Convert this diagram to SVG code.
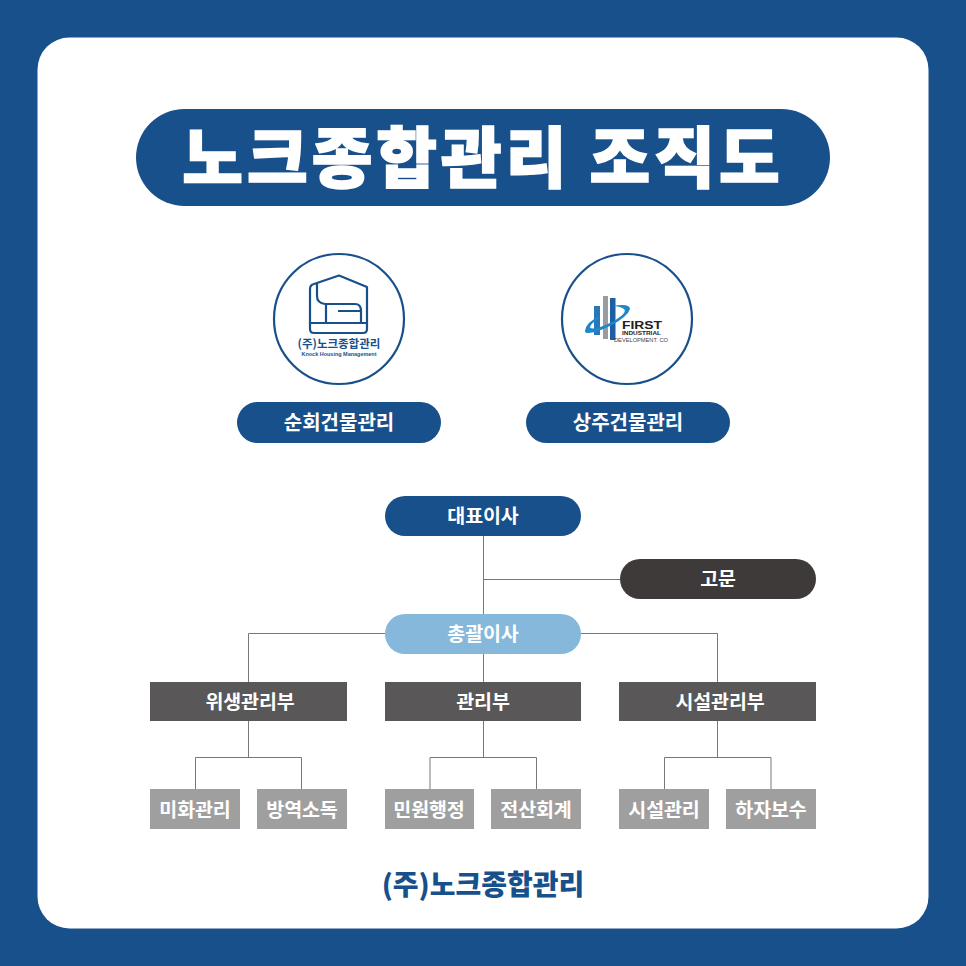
<svg xmlns="http://www.w3.org/2000/svg" width="966" height="966" viewBox="0 0 966 966">
<style>
text{font-family:"Noto Sans CJK KR","Noto Sans",sans-serif;text-anchor:middle;fill:#fff}
.n{font-size:19.500px;font-weight:700;letter-spacing:-.1px}
.s{font-size:20px;font-weight:700}
.c{fill:none;stroke:#77787a;stroke-width:1}
.ring{fill:#fff;stroke:#18508b;stroke-width:2.2}
.blue{fill:#18508b}.dark{fill:#595757}.grey{fill:#9f9fa0}
.ic{fill:none;stroke:#18508b;stroke-width:2.2;stroke-linejoin:round}
.en{font-family:"Liberation Sans",sans-serif}
</style>
<rect width="966" height="966" fill="#18508b"/>
<rect x="37.500" y="37.500" width="891" height="891" rx="32" fill="#fff"/>
<g id="title"><rect x="136" y="109" width="694" height="97" rx="48.500" class="blue"/>
<text x="483" y="182" font-size="66" font-weight="900" stroke="#fff" stroke-width="1.600" style="letter-spacing:4px">노크종합관리 조직도</text></g>
<g id="logo-knock"><circle cx="339" cy="319" r="65" class="ring"/>
<path class="ic" d="M314 284L339 275.500L367 287V329Q367 333 363 333H314Q310 333 310 329V289Q310 285 314 284ZM317 283V296Q317 303 325 304H355Q361 304 361 311V323M326 304V323M338 311H360M310 323H367"/>
<text x="339" y="348" font-size="11.500" font-weight="700" style="fill:#18508b">(주)노크종합관리</text>
<text x="339" y="356" font-size="5.200" font-weight="700" class="en" textLength="75" lengthAdjust="spacingAndGlyphs" style="fill:#18508b">Knock Housing Management</text></g>
<g id="logo-first"><circle cx="627" cy="319" r="65" class="ring"/>
<rect x="594" y="306" width="6" height="29" fill="#2a77b8"/><rect x="603" y="296" width="5" height="43" fill="#9a9da0"/><rect x="610" y="298" width="5.500" height="42" fill="#1d5fa5"/>
<path d="M585 331Q586 322 600 316L598 319Q590 324 590 328Q596 330 612 322Q628 313 624 309Q620 306 612 306Q630 303 630 309Q628 316 612 325Q596 333 588 333Q585 333 585 331Z" fill="#1f86c9"/>
<text x="642" y="329" font-size="11" font-weight="700" class="en" textLength="40" lengthAdjust="spacingAndGlyphs" style="fill:#222">FIRST</text>
<text x="641.500" y="335" font-size="5.500" font-weight="700" class="en" textLength="39" lengthAdjust="spacingAndGlyphs" style="fill:#222">INDUSTRIAL</text>
<text x="641" y="341.500" font-size="4.800" class="en" textLength="54" lengthAdjust="spacingAndGlyphs" style="fill:#444">DEVELOPMENT. CO</text></g>
<g id="sunhoe"><rect x="237" y="402" width="204" height="41" rx="20.500" class="blue"/><text x="339" y="430" class="s">순회건물관리</text></g>
<g id="sangju"><rect x="526" y="402" width="204" height="41" rx="20.500" class="blue"/><text x="628" y="430" class="s">상주건물관리</text></g>
<g id="connectors">
<path class="c" d="M483.500 536V682M483.500 579.500H620M385 633.500H248.500V682M581 633.500H717.500V682M248.500 721V757.500M195.500 789V757.500H301.500V789M483.500 721V757.500M430 789V757.500H536.500V789M717.500 721V757.500M664.500 789V757.500H771V789"/>
</g>
<g id="ceo"><rect x="385" y="496" width="196" height="40" rx="20" class="blue"/><text x="483" y="523" class="n">대표이사</text></g>
<g id="advisor"><rect x="620" y="559" width="196" height="40" rx="20" fill="#3e3a39"/><text x="718" y="586" class="n">고문</text></g>
<g id="director"><rect x="385" y="614" width="196" height="40" rx="20" fill="#85b8db"/><text x="483" y="641" class="n">총괄이사</text></g>
<g id="hygiene"><rect x="150" y="682" width="197" height="39" class="dark"/><text x="250" y="708.500" class="n">위생관리부</text></g>
<g id="mgmt"><rect x="385" y="682" width="196" height="39" class="dark"/><text x="483" y="708.500" class="n">관리부</text></g>
<g id="facility"><rect x="619" y="682" width="197" height="39" class="dark"/><text x="720" y="708.500" class="n">시설관리부</text></g>
<g id="n1"><rect x="150" y="789" width="90" height="40" class="grey"/><text x="195" y="816.500" class="n">미화관리</text></g>
<g id="n2"><rect x="257" y="789" width="90" height="40" class="grey"/><text x="302" y="816.500" class="n">방역소독</text></g>
<g id="n3"><rect x="385" y="789" width="89" height="40" class="grey"/><text x="429" y="816.500" class="n">민원행정</text></g>
<g id="n4"><rect x="491" y="789" width="90" height="40" class="grey"/><text x="536" y="816.500" class="n">전산회계</text></g>
<g id="n5"><rect x="619" y="789" width="90" height="40" class="grey"/><text x="664" y="816.500" class="n">시설관리</text></g>
<g id="n6"><rect x="726" y="789" width="90" height="40" class="grey"/><text x="771" y="816.500" class="n">하자보수</text></g>
<g id="footer"><text x="483" y="895" font-size="28" font-weight="900" style="fill:#18508b">(주)노크종합관리</text></g>
</svg>
